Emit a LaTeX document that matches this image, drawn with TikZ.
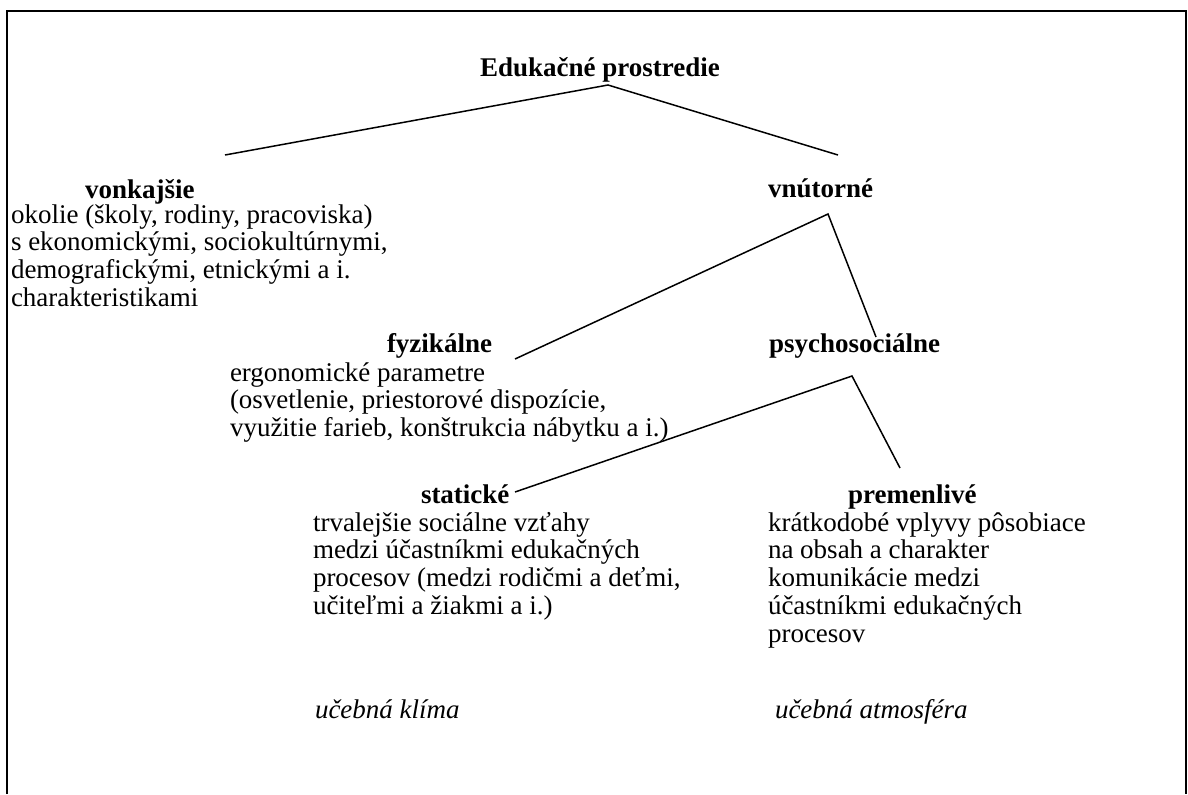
\documentclass[tikz,border=0pt]{standalone}
\usepackage{fontspec}
\setmainfont{Liberation Serif}
% left-aligned block of lines; its baseline is the baseline of the first line
\newcommand\stack[1]{\vtop{\baselineskip=13.9pt\lineskiplimit=-\maxdimen\lineskip=0pt\halign{##\hfil\cr#1\crcr}}}
\begin{document}
\begin{tikzpicture}[x=0.5pt,y=-0.5pt,
  every node/.style={inner sep=0pt,outer sep=0pt,anchor=base west,font=\fontsize{13.5}{13.9}\selectfont},
  head/.style={font=\fontsize{13.5}{13.9}\selectfont\bfseries},
  note/.style={font=\fontsize{13.5}{13.9}\selectfont\itshape},
  branch/.style={line width=0.75pt},
  frame/.style={line width=1pt}]
\useasboundingbox (0,0) rectangle (1188,794);

% open frame
\draw[frame] (7,794) -- (7,11) -- (1186,11) -- (1186,794);

% headings
\node[head] (root) at (480,76) {Edukačné prostredie};
\node[head] (vonk) at (85,198) {vonkajšie};
\node[head] (vnut) at (768,197) {vnútorné};
\node[head] (fyz)  at (387,352) {fyzikálne};
\node[head] (psy)  at (769,352) {psychosociálne};
\node[head] (stat) at (421,503) {statické};
\node[head] (prem) at (848,503) {premenlivé};

% descriptions
\node (vonkText) at (11,223) {\stack{okolie (školy, rodiny, pracoviska)\cr
  s ekonomickými, sociokultúrnymi,\cr
  demografickými, etnickými a i.\cr
  charakteristikami}};
\node (fyzText) at (230,381) {\stack{ergonomické parametre\cr
  (osvetlenie, priestorové dispozície,\cr
  využitie farieb, konštrukcia nábytku a i.)}};
\node (statText) at (313,531) {\stack{trvalejšie sociálne vzťahy\cr
  medzi účastníkmi edukačných\cr
  procesov (medzi rodičmi a deťmi,\cr
  učiteľmi a žiakmi a i.)}};
\node (premText) at (768,531) {\stack{krátkodobé vplyvy pôsobiace\cr
  na obsah a charakter\cr
  komunikácie medzi\cr
  účastníkmi edukačných\cr
  procesov}};

% labels
\node[note] (klima) at (315,718) {učebná klíma};
\node[note] (atmo)  at (775,718) {učebná atmosféra};

% branch points
\coordinate (rootFork) at (608,85);
\coordinate (vonkEnd)  at (225,155);
\coordinate (vnutEnd)  at (838,155);
\coordinate (vnutFork) at (828,214);
\coordinate (fyzEnd)   at (515,359);
\coordinate (psyEnd)   at (876,337);
\coordinate (psyFork)  at (852,376);
\coordinate (statEnd)  at (515,492);
\coordinate (premEnd)  at (900,468);

\draw[branch] (vonkEnd) -- (rootFork) -- (vnutEnd);
\draw[branch] (fyzEnd) -- (vnutFork) -- (psyEnd);
\draw[branch] (statEnd) -- (psyFork) -- (premEnd);
\end{tikzpicture}
\end{document}
